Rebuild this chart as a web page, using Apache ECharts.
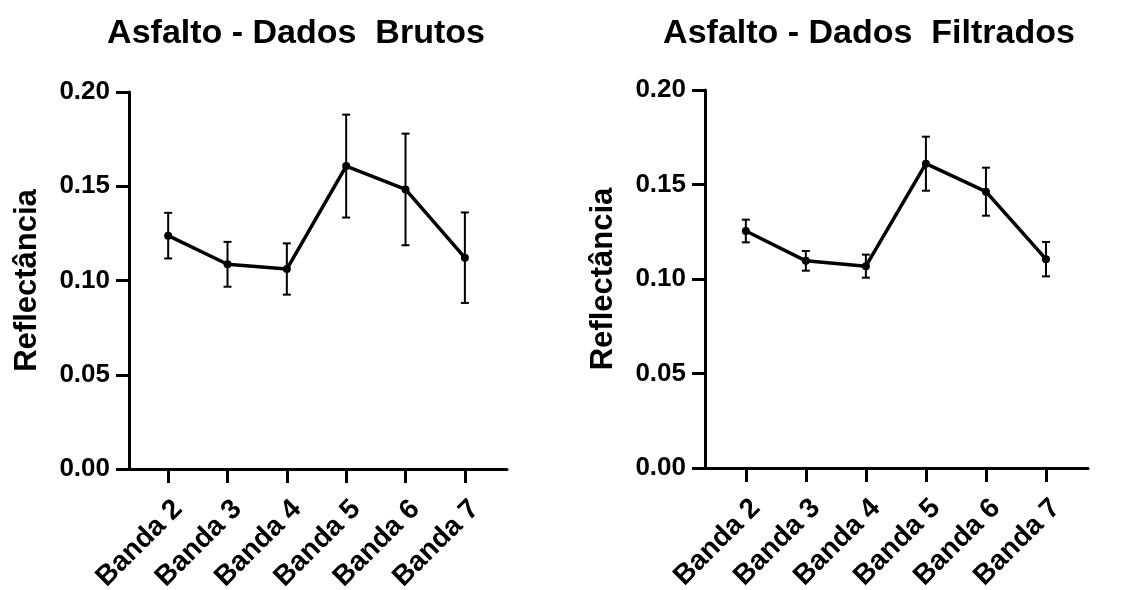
<!DOCTYPE html>
<html>
<head>
<meta charset="utf-8">
<script src="https://cdn.jsdelivr.net/npm/echarts@6/dist/echarts.min.js"></script>
<style>html,body{margin:0;padding:0;background:#fff}#c{width:1125px;height:590px}</style>
</head>
<body>
<div id="c"></div>
<script>
const categories = ['Banda 2','Banda 3','Banda 4','Banda 5','Banda 6','Banda 7'];
const bandPos = [2,3,4,5,6,7];
const yTicks = [0, 0.05, 0.10, 0.15, 0.20];
const titles = ['Asfalto - Dados  Brutos', 'Asfalto - Dados  Filtrados'];
const yName = 'Reflectância';
const brutosMean = [0.1238, 0.1086, 0.1061, 0.1607, 0.1483, 0.1121];
const brutosErr  = [0.0121, 0.0119, 0.0136, 0.0273, 0.0296, 0.0240];
const filtMean   = [0.1254, 0.1096, 0.1068, 0.1610, 0.1462, 0.1105];
const filtErr    = [0.0060, 0.0052, 0.0061, 0.0143, 0.0127, 0.0091];

const FONT = 'Liberation Sans, Arial, sans-serif';
const chart = echarts.init(document.getElementById('c'), null, {renderer:'canvas'});

function xAxisCfg(gi, min, max){
  return {
    type:'value', gridIndex:gi, min:min, max:max,
    axisLine:{show:true, onZero:false, lineStyle:{color:'#000', width:3}},
    axisTick:{show:true, customValues:bandPos, length:14, lineStyle:{color:'#000', width:3}},
    axisLabel:{customValues:bandPos, rotate:45, margin:26, verticalAlign:'top', color:'#000', fontFamily:FONT, fontWeight:'bold', fontSize:28,
      formatter:function(v){ return categories[bandPos.indexOf(Math.round(v))]; }},
    splitLine:{show:false}
  };
}
function yAxisCfg(gi){
  return {
    type:'value', gridIndex:gi, min:yTicks[0], max:yTicks[yTicks.length-1], interval:0.05,
    name:yName, nameLocation:'middle', nameGap:86, nameRotate:90,
    nameTextStyle:{color:'#000', fontFamily:FONT, fontWeight:'bold', fontSize:31},
    axisLine:{show:true, lineStyle:{color:'#000', width:3}},
    axisTick:{show:true, length:13, lineStyle:{color:'#000', width:3}},
    axisLabel:{margin:19, color:'#000', fontFamily:FONT, fontWeight:'bold', fontSize:26,
      formatter:function(v){ return v.toFixed(2); }},
    splitLine:{show:false}
  };
}
function errRender(params, api){
  const x = api.value(0), lo = api.value(1), hi = api.value(2);
  const p1 = api.coord([x, hi]), p2 = api.coord([x, lo]);
  const w = 4, st = {stroke:'#000', lineWidth:2};
  return {type:'group', children:[
    {type:'line', shape:{x1:p1[0], y1:p1[1], x2:p2[0], y2:p2[1]}, style:st},
    {type:'line', shape:{x1:p1[0]-w, y1:p1[1], x2:p1[0]+w, y2:p1[1]}, style:st},
    {type:'line', shape:{x1:p2[0]-w, y1:p2[1], x2:p2[0]+w, y2:p2[1]}, style:st}
  ]};
}
function seriesFor(gi, mean, err){
  return [
    {type:'custom', xAxisIndex:gi, yAxisIndex:gi, renderItem:errRender, silent:true, z:1,
      data: mean.map((m,i)=>[bandPos[i], m-err[i], m+err[i]])},
    {type:'line', xAxisIndex:gi, yAxisIndex:gi, z:2,
      data: mean.map((m,i)=>[bandPos[i], m]),
      symbol:'circle', symbolSize:8, showSymbol:true,
      lineStyle:{color:'#000', width:3.5}, itemStyle:{color:'#000'}, animation:false}
  ];
}

chart.setOption({
  animation:false,
  backgroundColor:'#fff',
  graphic:[
    {type:'text', x:296, y:34, style:{text:titles[0], textAlign:'center', textVerticalAlign:'middle', fill:'#000', font:'bold 34px ' + FONT}},
    {type:'text', x:869, y:34, style:{text:titles[1], textAlign:'center', textVerticalAlign:'middle', fill:'#000', font:'bold 34px ' + FONT}}
  ],
  grid:[
    {left:129, top:92, width:378, height:377, containLabel:false, outerBoundsMode:'none'},
    {left:705, top:90, width:383, height:378, containLabel:false, outerBoundsMode:'none'}
  ],
  xAxis:[xAxisCfg(0, 1.34, 7.71), xAxisCfg(1, 1.32, 7.70)],
  yAxis:[yAxisCfg(0), yAxisCfg(1)],
  series:[].concat(seriesFor(0, brutosMean, brutosErr), seriesFor(1, filtMean, filtErr))
});
</script>
</body>
</html>
